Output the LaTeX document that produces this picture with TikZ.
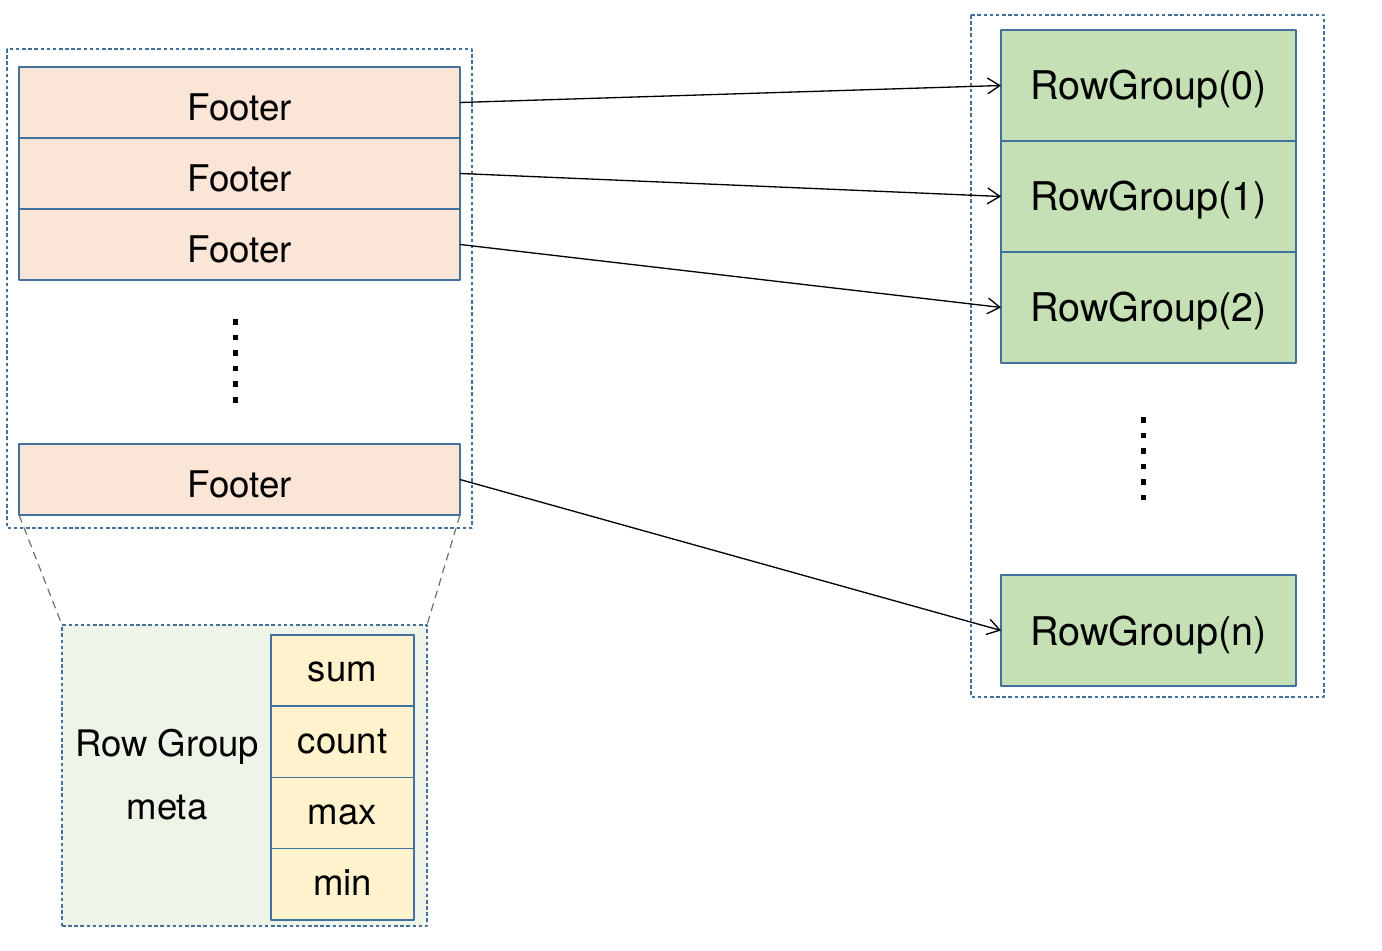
\documentclass[tikz,border=0pt]{standalone}
\usepackage{fontspec}
\setmainfont{TeX Gyre Heros}
\usetikzlibrary{positioning,arrows.meta}
\definecolor{boxblue}{HTML}{41719C}
\definecolor{footfill}{HTML}{FBE5D6}
\definecolor{rgfill}{HTML}{C5E0B4}
\definecolor{cellfill}{HTML}{FFF2CC}
\definecolor{metafill}{HTML}{EEF5E8}
\definecolor{linkgray}{HTML}{707070}
\tikzset{
	box/.style={draw=boxblue, line width=.03cm, inner sep=0pt, outer sep=0pt},
	footer/.style={box, fill=footfill, minimum width=8.82cm, minimum height=1.42cm,
		font=\fontsize{20.9}{25}\selectfont, text height=24.5pt, text depth=4pt},
	rowgroup/.style={box, fill=rgfill, minimum width=5.9cm, minimum height=2.22cm,
		font=\fontsize{22.5}{27}\selectfont, text height=21pt, text depth=4.5pt},
	stat/.style={box, fill=cellfill, minimum width=2.86cm, minimum height=1.425cm,
		font=\fontsize{20.8}{25}\selectfont, text height=17pt, text depth=4pt},
	group/.style={draw=boxblue, line width=.024cm, dash pattern=on 2pt off 1.5pt},
}
\begin{document}
\begin{tikzpicture}[x=.02cm, y=-.02cm, line join=round, >={Straight Barb[length=7pt,width=9pt]}]
	\useasboundingbox (0,0) rectangle (1382,950);
	% left side: footers
	\draw[group] (7,49) rectangle (472,528);
	\node[footer] (f0) at (239.5,102.5) {Footer};
	\node[footer, below=0pt of f0] (f1) {Footer};
	\node[footer, below=0pt of f1] (f2) {Footer};
	\node[footer] (fn) at (239.5,479.5) {Footer};
	\foreach \k in {0,...,5}
		\fill (232.5,{319+15.6*\k}) rectangle ++(5.5,5.5);
	
	% right side: row groups
	\draw[group] (971,15) rectangle (1324,697);
	\node[rowgroup] (rg0) at (1148.5,85.5) {RowGroup(0)};
	\node[rowgroup, below=0pt of rg0] (rg1) {RowGroup(1)};
	\node[rowgroup, below=0pt of rg1] (rg2) {RowGroup(2)};
	\node[rowgroup] (rgn) at (1148.5,630.5) {RowGroup(n)};
	\foreach \k in {0,...,5}
		\fill (1140.5,{417+15.5*\k}) rectangle ++(5.5,5.5);
	
	% row group meta
	\node[group, fill=metafill, minimum width=7.3cm, minimum height=6.02cm, inner sep=0pt, outer sep=0pt] (meta) at (244.5,775.5) {};
	\node[stat] (sum) at (342.5,670.5) {sum};
	\node[stat, below=0pt of sum] (count) {count};
	\node[stat, below=0pt of count] (max) {max};
	\node[stat, below=0pt of max] (min) {min};
	\node[anchor=base, font=\fontsize{20.8}{25}\selectfont, inner sep=0pt] (mtitle) at (167,756) {Row Group};
	\node[anchor=base, font=\fontsize{20.8}{25}\selectfont, inner sep=0pt] (mword) at (167,819) {meta};
	\draw[linkgray, line width=.024cm, dash pattern=on 4.5pt off 3pt] (fn.south west) -- (meta.north west);
	\draw[linkgray, line width=.024cm, dash pattern=on 4.5pt off 3pt] (fn.south east) -- (meta.north east);
	
	% links
	\foreach \a/\b in {f0/rg0,f1/rg1,f2/rg2,fn/rgn}
		\draw[->, line width=.75pt] (\a.east) -- (\b.west);
\end{tikzpicture}
\end{document}
